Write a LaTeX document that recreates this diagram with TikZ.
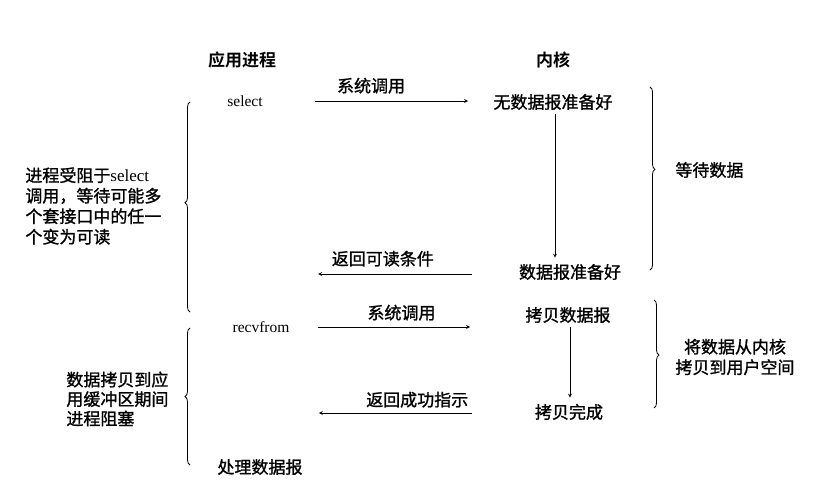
\documentclass[tikz,border=0pt]{standalone}
\usepackage{fontspec}
\setmainfont{Liberation Serif}
\newfontfamily\cjk{Noto Sans CJK SC}[FakeBold=1.2, BoldFont={Noto Sans CJK SC Bold}, BoldFeatures={FakeBold=0}]
\usetikzlibrary{decorations.pathreplacing}

\begin{document}
\begin{tikzpicture}[x=1pt, y=-1pt, >=stealth, line width=0.8pt,
		txt/.style={font=\cjk\fontsize{17}{20.5}\selectfont, inner sep=0pt},
		head/.style={font=\cjk\bfseries\fontsize{17}{20.5}\selectfont, inner sep=0pt},
		latin/.style={font=\fontsize{15.5}{20.5}\selectfont, inner sep=0pt},
		note/.style={txt, align=left, anchor=west},
		call/.style={->},
		brace/.style={decorate, decoration={brace, amplitude=5pt, aspect=#1}},
		brace/.default=0.5]
	\useasboundingbox (0,0) rectangle (834,494);
	% column heads
	\node[head] (app) at (242,60) {应用进程};
	\node[head] (kern) at (553,60) {内核};
	% select phase
	\node[latin] (sel) at (245,101) {select};
	\node[txt] (nodg) at (553,102) {无数据报准备好};
	\node[txt] (dgok) at (570,272) {数据报准备好};
	\draw[call, shorten <=52pt, shorten >=25pt] (sel.east) -- (sel.east -| nodg.west)
		node[txt, midway, above=7pt, xshift=-7pt] {系统调用};
	\draw[call, shorten <=4pt, shorten >=6pt] ([xshift=2pt]nodg.south) -- ([xshift=2pt]nodg.south |- dgok.north);
	\draw[call, shorten <=47pt, shorten >=55pt] ([yshift=-2pt]dgok.west) -- ([yshift=-2pt]dgok.west -| sel.east)
		node[txt, midway, above=7pt, xshift=-8pt] {返回可读条件};
	% recvfrom phase
	\node[latin] (recv) at (261,327) {recvfrom};
	\node[txt] (copy) at (568,315) {拷贝数据报};
	\node[txt] (done) at (569,412) {拷贝完成};
	\node[txt] (proc) at (260,467) {处理数据报};
	\draw[call, shorten <=28pt, shorten >=55pt] (recv.east) -- (recv.east -| copy.west)
		node[txt, midway, above=6pt, xshift=-6pt] {系统调用};
	\draw[call, shorten <=4pt, shorten >=6pt] ([xshift=2pt]copy.south) -- ([xshift=2pt]copy.south |- done.north);
	\draw[call, shorten <=63pt, shorten >=29pt] ([yshift=-1pt]done.west) -- ([yshift=-1pt]done.west -| recv.east)
		node[txt, midway, above=5pt, xshift=5pt] {返回成功指示};
	% braces
	\coordinate (lb1a) at (190,102);
	\coordinate (lb1b) at (190,312);
	\coordinate (rb1a) at (650,87);
	\coordinate (rb1b) at (650,270);
	\coordinate (lb2a) at (190,328);
	\coordinate (lb2b) at (190,465);
	\coordinate (rb2a) at (654,300);
	\coordinate (rb2b) at (654,408);
	\draw[brace=0.52] (lb1b) -- (lb1a);
	\draw[brace=0.45] (rb1a) -- (rb1b);
	\draw[brace] (lb2b) -- (lb2a);
	\draw[brace=0.51] (rb2a) -- (rb2b);
	% brace notes
	\node[note] (wait) at (25,206) {进程受阻于{\rmfamily select}\\调用，等待可能多\\个套接口中的任一\\个变为可读};
	\node[note] (waitdg) at (675,170) {等待数据};
	\node[note, font=\cjk\fontsize{17}{19.5}\selectfont] (block) at (66,399) {数据拷贝到应\\用缓冲区期间\\进程阻塞};
	\node[txt, align=center] (kcopy) at (735,357) {将数据从内核\\拷贝到用户空间};
\end{tikzpicture}
\end{document}
